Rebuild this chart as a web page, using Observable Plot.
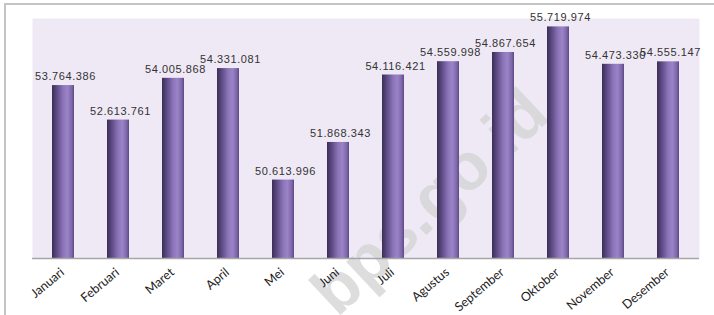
<!DOCTYPE html>
<html>
<head>
<meta charset="utf-8">
<script src="https://cdn.jsdelivr.net/npm/d3@7"></script>
<script src="https://cdn.jsdelivr.net/npm/@observablehq/plot@0.6"></script>
<style>
  html, body { margin: 0; padding: 0; background: #ffffff; }
  #wrap { position: relative; width: 714px; height: 315px; overflow: hidden; }
  #border { position: absolute; left: 4px; top: 3px; width: 800px; height: 400px;
            border-left: 2px solid #c4c4c4; border-top: 2px solid #c4c4c4; }
  #chart { position: absolute; left: 0; top: 0; }
  .vlab text { letter-spacing: 0.6px; }
</style>
</head>
<body>
<div id="wrap"><div id="border"></div><div id="chart"></div></div>
<script>
const months = ["Januari", "Februari", "Maret", "April", "Mei", "Juni", "Juli",
                "Agustus", "September", "Oktober", "November", "Desember"];
const values = [53764386, 52613761, 54005868, 54331081, 50613996, 51868343,
                54116421, 54559998, 54867654, 55719974, 54473330, 54555147];
const yDomain = [48000000, 56000000];
const watermark = "bps.go.id";

const data = months.map((m, i) => ({month: m, value: values[i]}));
const fmt = d3.formatLocale({decimal: ",", thousands: ".", grouping: [3], currency: ["", ""]}).format(",d");

const plot = Plot.plot({
  width: 714,
  height: 315,
  marginLeft: 32,
  marginRight: 15,
  marginTop: 18,
  marginBottom: 57,
  style: {fontFamily: "Liberation Sans, Arial, sans-serif", background: "transparent", overflow: "visible"},
  x: {domain: months, paddingInner: 0.6, paddingOuter: 0.3, label: null, axis: null},
  y: {domain: yDomain, axis: null, label: null},
  marks: [
    Plot.frame({fill: "#efe9f6", stroke: null}),
    Plot.text([watermark], {
      frameAnchor: "middle", dx: 64, dy: 64, rotate: -43,
      text: d => d, fontSize: 66, fontWeight: "bold",
      fontFamily: "Liberation Sans, Arial, sans-serif",
      fill: "#d2d2d2", fillOpacity: 0.75, clip: false
    }),
    Plot.barY(data, {x: "month", y1: yDomain[0], y2: "value", fill: "url(#barGrad)"}),
    Plot.ruleY([yDomain[0]], {stroke: "#a6a6a6", strokeWidth: 1.5}),
    Plot.text(data, {
      x: "month", y: "value", text: d => fmt(d.value), dy: -9, dx: 2,
      fontSize: 11, fill: "#333333", className: "vlab",
      fontFamily: "Liberation Sans, Arial, sans-serif"
    }),
    Plot.text(data, {
      x: "month", y: yDomain[0], text: "month",
      dx: -1, dy: 12, rotate: -40, textAnchor: "end", lineAnchor: "middle",
      fontSize: 12.5, fill: "#222222",
      fontFamily: "Lato, Open Sans, sans-serif"
    })
  ]
});

const ns = "http://www.w3.org/2000/svg";
const defs = document.createElementNS(ns, "defs");
const grad = document.createElementNS(ns, "linearGradient");
grad.setAttribute("id", "barGrad");
grad.setAttribute("x1", "0"); grad.setAttribute("x2", "1");
grad.setAttribute("y1", "0"); grad.setAttribute("y2", "0");
[["0", "#3b2e54"], ["0.18", "#57457d"], ["0.5", "#8c74b9"], ["0.7", "#9a84c6"], ["0.88", "#8069ad"], ["1", "#5d4a84"]]
  .forEach(([o, c]) => {
    const s = document.createElementNS(ns, "stop");
    s.setAttribute("offset", o); s.setAttribute("stop-color", c);
    grad.appendChild(s);
  });
defs.appendChild(grad);
plot.insertBefore(defs, plot.firstChild);

document.getElementById("chart").appendChild(plot);
</script>
</body>
</html>
